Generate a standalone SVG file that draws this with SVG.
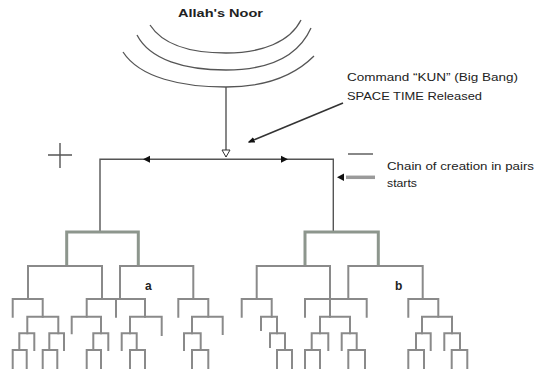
<svg xmlns="http://www.w3.org/2000/svg" width="535" height="374" viewBox="0 0 535 374">
<defs>
<style>
.t{font-family:"Liberation Sans",Arial,sans-serif;fill:#222}
.arc{fill:none;stroke:#555;stroke-width:1.3}
.tr{fill:none;stroke:#8a8a8a;stroke-width:2;stroke-linecap:square}
.tr1{fill:none;stroke:#8d968d;stroke-width:3}
.ln{fill:none;stroke:#555;stroke-width:1.4}
.ah{fill:#111}
</style>
<marker id="arr" viewBox="0 0 10 10" refX="8" refY="5" markerWidth="7" markerHeight="7" markerUnits="userSpaceOnUse" orient="auto">
<path d="M0,1 L10,5 L0,9 Z" fill="#111"/>
</marker>
</defs>
<rect width="535" height="374" fill="#fff"/>

<g id="noor">
<text class="t" x="178" y="17" font-size="10.5" font-weight="bold" textLength="85" lengthAdjust="spacingAndGlyphs">Allah's Noor</text>
<path class="arc" d="M150,25 C163,45 190,53 226,53 C262,53 290,42 301,20"/>
<path class="arc" d="M137,35 C150,60 185,70 226,70 C268,70 298,57 311,28"/>
<path class="arc" d="M123,52 C140,78 182,87 226,87 C262,87 292,78 314,56"/>
</g>

<g id="label-command">
<text class="t" x="347" y="81" font-size="10.5" textLength="171" lengthAdjust="spacingAndGlyphs">Command “KUN” (Big Bang)</text>
<text class="t" x="347" y="99.5" font-size="10.5" textLength="135" lengthAdjust="spacingAndGlyphs">SPACE TIME Released</text>
</g>

<g id="label-chain">
<text class="t" x="387" y="170" font-size="10.5" textLength="147" lengthAdjust="spacingAndGlyphs">Chain of creation in pairs</text>
<text class="t" x="387" y="187" font-size="10.5" textLength="30" lengthAdjust="spacingAndGlyphs">starts</text>
</g>

<g id="plus">
<path d="M48,155 H72 M60,143 V168" stroke="#555" stroke-width="1.4" fill="none"/>
</g>
<g id="minus">
<path d="M348,154 H373" stroke="#555" stroke-width="1.4" fill="none"/>
</g>

<g id="label-a"><text class="t" x="145" y="290" font-size="12" font-weight="bold">a</text></g>
<g id="label-b"><text class="t" x="395" y="290" font-size="12" font-weight="bold">b</text></g>

<g id="connectors">
<path class="ln" d="M226,87 V157"/>
<polygon points="222,150 230,150 226,157" fill="#fff" stroke="#333" stroke-width="1"/>
<path class="ln" d="M100,232 V159.3 H333.3 V232"/>
<polygon class="ah" points="143,159.3 150,155.8 150,162.8"/>
<polygon class="ah" points="288,159.3 281,155.8 281,162.8"/>
<path d="M343,103 L249,142" stroke="#333" stroke-width="1.6" fill="none" marker-end="url(#arr)"/>
<path d="M375,177.3 L346,177.3" stroke="#9a9a9a" stroke-width="3.5" fill="none"/>
<polygon class="ah" points="337,177.3 344,173.5 344,181"/>
</g>

<g id="tree-left">
<path class="tr1" d="M66.7,266 V232 H138.3 V266"/>
<path class="tr" d="M28,299 V266 H102 V299"/>
<path class="tr" d="M120,299 V266 H193.3 V299"/>
<path class="tr" d="M12.7,316.7 V299 H42.7 V316.7"/>
<path class="tr" d="M27.3,333.3 V316.7 H58.3 V333.3"/>
<path class="tr" d="M19.3,350 V333.3 H34.3 V350"/>
<path class="tr" d="M12.7,368 V350 H26.7 V368"/>
<path class="tr" d="M49.3,350 V333.3 H64 V350"/>
<path class="tr" d="M42.7,368 V350 H57.3 V368"/>
<path class="tr" d="M86.7,316.7 V299 H145 V316.7 M116,299 V316.7"/>
<path class="tr" d="M71.7,333.3 V316.7 H101 V333.3"/>
<path class="tr" d="M93.3,350 V333.3 H108.3 V350"/>
<path class="tr" d="M86.7,368 V350 H101 V368"/>
<path class="tr" d="M130,333.3 V316.7 H161.7 V335"/>
<path class="tr" d="M121.7,350 V333.3 H136.7 V350"/>
<path class="tr" d="M130,368 V350 H145 V368"/>
<path class="tr" d="M178.3,316.7 V299 H208.3 V316.7"/>
<path class="tr" d="M192,333.3 V316.7 H222.7 V334"/>
<path class="tr" d="M184,350 V333.3 H200.7 V350"/>
<path class="tr" d="M192,368 V350 H208.3 V368"/>
</g>

<g id="tree-right">
<path class="tr1" d="M305,266 V232 H378.3 V266"/>
<path class="tr" d="M256.7,299 V266 H330 V316.7"/>
<path class="tr" d="M348.3,299 V266 H422.7 V299"/>
<path class="tr" d="M241.7,316.7 V299 H271.7 V316.7"/>
<path class="tr" d="M261,330 V316.7 H277 V333.3"/>
<path class="tr" d="M270,347 V333.3 H285 V350"/>
<path class="tr" d="M277,368 V350 H292 V368"/>
<path class="tr" d="M305,316.7 V299 H366.7 V316.7"/>
<path class="tr" d="M320,333.3 V316.7 H350 V333.3"/>
<path class="tr" d="M311.7,350 V333.3 H328.3 V350"/>
<path class="tr" d="M305,368 V350 H320 V368"/>
<path class="tr" d="M341.7,350 V333.3 H356.7 V350"/>
<path class="tr" d="M348.3,368 V350 H365 V368"/>
<path class="tr" d="M408.3,316.7 V299 H438.3 V316.7"/>
<path class="tr" d="M422,333.3 V316.7 H452 V333.3"/>
<path class="tr" d="M416,350 V333.3 H430.7 V350"/>
<path class="tr" d="M408.3,368 V350 H424 V368"/>
<path class="tr" d="M444.3,350 V333.3 H460 V350"/>
<path class="tr" d="M451.7,368 V350 H467.3 V368"/>
</g>
</svg>
